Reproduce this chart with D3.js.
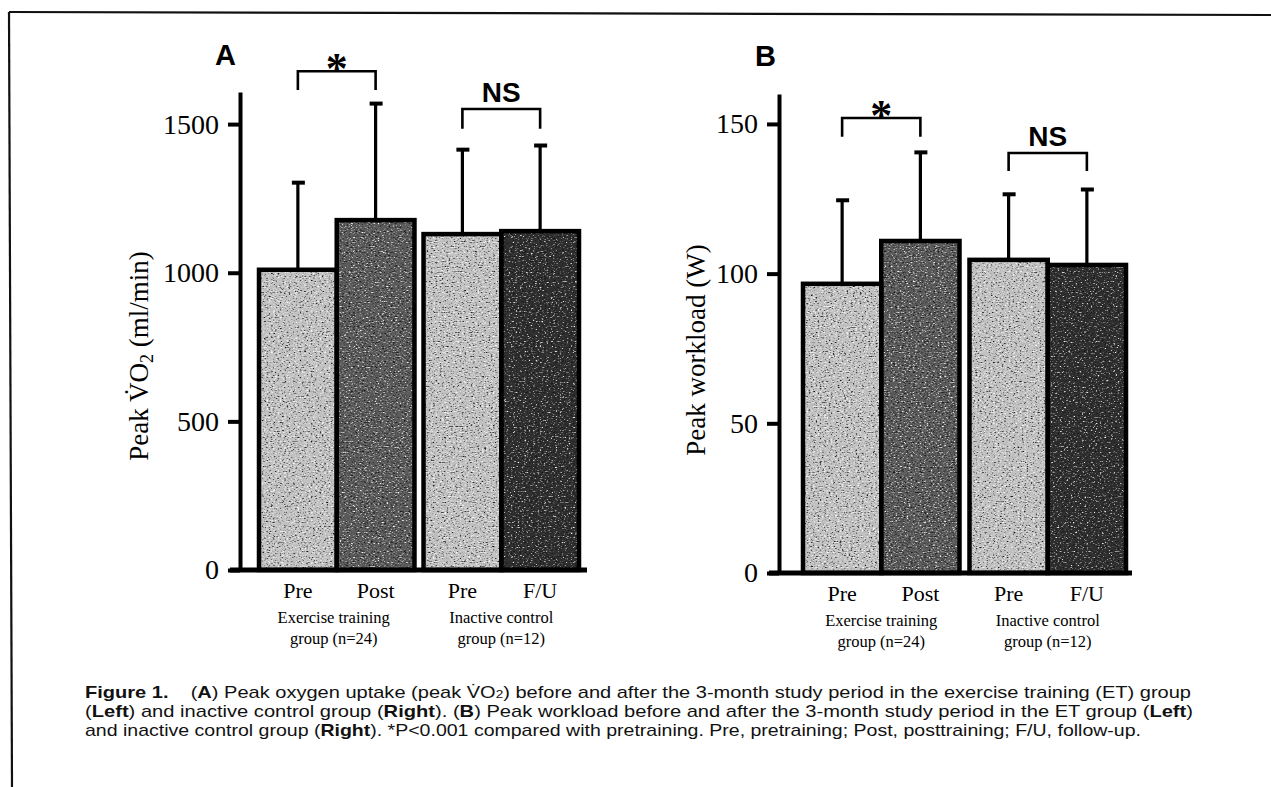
<!DOCTYPE html>
<html>
<head>
<meta charset="utf-8">
<script src="https://cdn.jsdelivr.net/npm/d3@7"></script>
<style>
  html, body { margin: 0; padding: 0; background: #fff; }
  svg { display: block; }
</style>
</head>
<body>
<svg id="chart" width="1271" height="787"></svg>
<script>
// ---------------- data ----------------
const barLabels = ["Pre", "Post", "Pre", "F/U"];
const groupLabels = [["Exercise training", "group (n=24)"], ["Inactive control", "group (n=12)"]];
const vo2Mean = [1010, 1177, 1130, 1140];
const vo2SD = [293, 392, 284, 288];
const workloadMean = [96.6, 110.9, 104.6, 102.9];
const workloadSD = [27.9, 29.6, 21.9, 25.2];
const vo2Ticks = [0, 500, 1000, 1500];
const workloadTicks = [0, 50, 100, 150];
// brackets: [fromBar, toBar, label, topValue, bottomValue]
const vo2Brackets = [[0, 1, "*", 1678, 1615], [2, 3, "NS", 1551, 1484]];
const workloadBrackets = [[0, 1, "*", 152, 145.7], [2, 3, "NS", 140.3, 134.3]];

// ---------------- setup ----------------
const svg = d3.select("#chart");
const defs = svg.append("defs");
const barTones = [
  { base: "#c0c0c0", dark: [4, -2.35], light: [-4, 1.75], seed: 3 },
  { base: "#5c5c5c", dark: [4, -2.2], light: [-4, 1.65], seed: 7 },
  { base: "#c0c0c0", dark: [4, -2.35], light: [-4, 1.75], seed: 11 },
  { base: "#303030", dark: [4, -2.1], light: [-4, 1.6], seed: 17 }
];
function makeFilter(id, t) {
  const f = defs.append("filter").attr("id", id)
    .attr("x", 0).attr("y", 0).attr("width", 1).attr("height", 1)
    .attr("color-interpolation-filters", "sRGB");
  f.append("feTurbulence").attr("type", "fractalNoise")
    .attr("baseFrequency", "0.45 0.8").attr("numOctaves", 2).attr("seed", t.seed).attr("result", "noise");
  f.append("feColorMatrix").attr("in", "noise").attr("type", "matrix")
    .attr("values", `0 0 0 0 0.1  0 0 0 0 0.1  0 0 0 0 0.1  ${t.dark[0]} 0 0 0 ${t.dark[1]}`).attr("result", "dk");
  f.append("feColorMatrix").attr("in", "noise").attr("type", "matrix")
    .attr("values", `0 0 0 0 0.97  0 0 0 0 0.97  0 0 0 0 0.97  ${t.light[0]} 0 0 0 ${t.light[1]}`).attr("result", "lt");
  const m = f.append("feMerge").attr("result", "merged");
  m.append("feMergeNode").attr("in", "SourceGraphic");
  m.append("feMergeNode").attr("in", "dk");
  m.append("feMergeNode").attr("in", "lt");
  f.append("feComposite").attr("in", "merged").attr("in2", "SourceGraphic").attr("operator", "in");
}
barTones.forEach((t, i) => { makeFilter("texA" + i, t); makeFilter("texB" + i, Object.assign({}, t, { seed: t.seed + 40 })); });

// frame lines of the scanned figure
svg.append("line").attr("x1", 9).attr("y1", 12).attr("x2", 1271).attr("y2", 15)
  .attr("stroke", "#111").attr("stroke-width", 2.2);
svg.append("line").attr("x1", 9).attr("y1", 12).attr("x2", 12).attr("y2", 787)
  .attr("stroke", "#111").attr("stroke-width", 2.2);

const serif = "'Liberation Serif', 'Times New Roman', serif";
const sans = "'Liberation Sans', Arial, sans-serif";

function drawPanel(cfg) {
  const g = svg.append("g");
  const y = d3.scaleLinear().domain([0, cfg.yMax]).range([cfg.base, cfg.top]);
  const xg = d3.scaleBand().domain([0, 1]).range([cfg.x0, cfg.x1]).paddingInner(cfg.gap);
  const xi = d3.scaleBand().domain([0, 1]).range([0, xg.bandwidth()]);
  const bx = i => xg(Math.floor(i / 2)) + xi(i % 2);
  const bw = xi.bandwidth();
  const cx = i => bx(i) + bw / 2;

  // bars
  g.selectAll("rect.fill").data(cfg.mean).join("rect").attr("class", "fill")
    .attr("x", (d, i) => bx(i)).attr("y", d => y(d))
    .attr("width", bw).attr("height", d => y(0) - y(d))
    .attr("fill", (d, i) => barTones[i].base)
    .attr("filter", (d, i) => `url(#${cfg.id}${i})`);
  g.selectAll("rect.outline").data(cfg.mean).join("rect").attr("class", "outline")
    .attr("x", (d, i) => bx(i)).attr("y", d => y(d))
    .attr("width", bw).attr("height", d => y(0) - y(d))
    .attr("fill", "none").attr("stroke", "#000").attr("stroke-width", 4.5);

  // error bars
  g.selectAll("line.err").data(cfg.mean).join("line").attr("class", "err")
    .attr("x1", (d, i) => cx(i)).attr("x2", (d, i) => cx(i))
    .attr("y1", d => y(d)).attr("y2", (d, i) => y(d + cfg.sd[i]))
    .attr("stroke", "#000").attr("stroke-width", 3.2);
  g.selectAll("line.cap").data(cfg.mean).join("line").attr("class", "cap")
    .attr("x1", (d, i) => cx(i) - 6).attr("x2", (d, i) => cx(i) + 7)
    .attr("y1", (d, i) => y(d + cfg.sd[i])).attr("y2", (d, i) => y(d + cfg.sd[i]))
    .attr("stroke", "#000").attr("stroke-width", 4);

  // y axis
  const ax = g.append("g").attr("transform", `translate(${cfg.axisX},0)`)
    .call(d3.axisLeft(y).tickValues(cfg.ticks).tickFormat(d3.format("d"))
      .tickSize(12).tickSizeOuter(0).tickPadding(9));
  ax.select(".domain").attr("stroke", "#000").attr("stroke-width", 4);
  ax.selectAll(".tick line").attr("stroke", "#000").attr("stroke-width", 4);
  ax.selectAll(".tick text").attr("fill", "#000").style("font-family", serif).style("font-size", "28px");

  // baseline
  g.append("line").attr("x1", cfg.axisX - 10).attr("x2", cfg.baseEnd)
    .attr("y1", y(0)).attr("y2", y(0)).attr("stroke", "#000").attr("stroke-width", 5);

  // bar labels
  g.selectAll("text.bl").data(barLabels).join("text").attr("class", "bl")
    .attr("x", (d, i) => cx(i)).attr("y", y(0) + 28)
    .attr("text-anchor", "middle").style("font-family", serif).style("font-size", "22px")
    .text(d => d);
  // group labels
  groupLabels.forEach((lines, gi) => {
    lines.forEach((t, li) => {
      g.append("text").attr("x", xg(gi) + xg.bandwidth() / 2 + cfg.groupDx[gi])
        .attr("y", y(0) + 53 + li * 21)
        .attr("text-anchor", "middle").style("font-family", serif).style("font-size", "16.5px")
        .text(t);
    });
  });

  // brackets
  cfg.brackets.forEach(b => {
    const [a, c, lab, top, bot] = b;
    g.append("path")
      .attr("d", `M${cx(a)},${y(bot)}V${y(top)}H${cx(c)}V${y(bot)}`)
      .attr("fill", "none").attr("stroke", "#000").attr("stroke-width", 2.6);
    const mx = (cx(a) + cx(c)) / 2;
    if (lab === "*") {
      g.append("text").attr("x", mx).attr("y", y(top) + cfg.starDy)
        .attr("text-anchor", "middle").style("font-family", serif).style("font-weight", "bold")
        .style("font-size", "44px").text(lab);
    } else {
      g.append("text").attr("x", mx).attr("y", y(top) - 7)
        .attr("text-anchor", "middle").style("font-family", sans).style("font-weight", "bold")
        .style("font-size", "28px").text(lab);
    }
  });

  // panel letter
  g.append("text").attr("x", cfg.letterX).attr("y", cfg.letterY)
    .style("font-family", sans).style("font-weight", "bold").style("font-size", "29px").text(cfg.letter);

  // y label
  const yl = g.append("text").attr("transform", `translate(${cfg.ylabX},${cfg.ylabY}) rotate(-90)`)
    .attr("text-anchor", "middle").style("font-family", serif).style("font-size", "27px");
  cfg.ylab(yl);
}

drawPanel({
  id: "texA", mean: vo2Mean, sd: vo2SD, ticks: vo2Ticks, brackets: vo2Brackets,
  yMax: 1608, base: 570, top: 92, x0: 259, x1: 579, gap: 0.055, axisX: 240, baseEnd: 587,
  groupDx: [-3, 0], starDy: 12, letter: "A", letterX: 215, letterY: 65,
  ylabX: 148, ylabY: 356,
  ylab: t => {
    t.append("tspan").text("Peak V\u0307O");
    t.append("tspan").attr("baseline-shift", "-25%").style("font-size", "18px").text("2");
    t.append("tspan").text(" (ml/min)");
  }
});
drawPanel({
  id: "texB", mean: workloadMean, sd: workloadSD, ticks: workloadTicks, brackets: workloadBrackets,
  yMax: 160, base: 573, top: 94, x0: 803, x1: 1126, gap: 0.06, axisX: 779, baseEnd: 1132,
  groupDx: [0, 0], starDy: 12, letter: "B", letterX: 755, letterY: 66,
  ylabX: 705, ylabY: 350,
  ylab: t => { t.text("Peak workload (W)"); }
});

// ---------------- caption ----------------
const captionLines = [
  [["Figure 1.", "b"], ["\u00a0\u00a0\u00a0 (", ""], ["A", "b"], [") Peak oxygen uptake (peak V\u0307O", ""], ["2", "s"], [") before and after the 3-month study period in the exercise training (ET) group", ""]],
  [["(", ""], ["Left", "b"], [") and inactive control group (", ""], ["Right", "b"], ["). (", ""], ["B", "b"], [") Peak workload before and after the 3-month study period in the ET group (", ""], ["Left", "b"], [")", ""]],
  [["and inactive control group (", ""], ["Right", "b"], ["). *P<0.001 compared with pretraining. Pre, pretraining; Post, posttraining; F/U, follow-up.", ""]]
];
const capY = [698, 717, 736];
const capW = [1106, 1108, 1056];
captionLines.forEach((segs, li) => {
  const t = svg.append("text").attr("x", 85).attr("y", capY[li])
    .attr("textLength", capW[li]).attr("lengthAdjust", "spacingAndGlyphs")
    .style("font-family", sans).style("font-size", "17px").attr("fill", "#111");
  segs.forEach(([s, k]) => {
    const sp = t.append("tspan").text(s);
    if (k === "b") sp.style("font-weight", "bold");
    if (k === "s") sp.style("font-size", "11.5px");
  });
});
</script>
</body>
</html>
